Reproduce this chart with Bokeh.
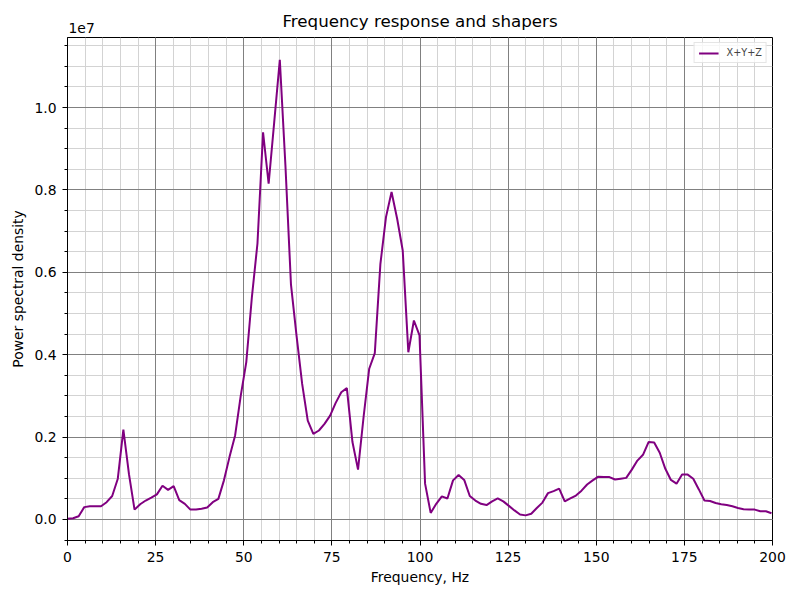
from bokeh.plotting import figure
from bokeh.models import (Range1d, FixedTicker, CustomJSTickFormatter, Label,
                          Legend, LegendItem, ColumnDataSource, Grid)
from bokeh.embed import file_html
from bokeh.resources import INLINE

# ---------------- data ----------------
freq_hz = [0.0, 1.59, 3.17, 4.76, 6.34, 7.93, 9.51, 11.1, 12.68, 14.27,
           15.85, 17.44, 19.02, 20.61, 22.19, 23.78, 25.36, 26.95, 28.53, 30.12,
           31.7, 33.29, 34.87, 36.46, 38.04, 39.63, 41.21, 42.8, 44.38, 45.97,
           47.55, 49.14, 50.72, 52.31, 53.89, 55.48, 57.06, 58.65, 60.23, 61.82,
           63.4, 64.99, 66.57, 68.16, 69.74, 71.33, 72.91, 74.5, 76.08, 77.67,
           79.25, 80.84, 82.42, 84.01, 85.59, 87.18, 88.76, 90.35, 91.93, 93.52,
           95.1, 96.69, 98.27, 99.86, 101.44, 103.03, 104.61, 106.2, 107.78, 109.37,
           110.95, 112.54, 114.12, 115.71, 117.29, 118.88, 120.46, 122.05, 123.63, 125.22,
           126.8, 128.39, 129.97, 131.56, 133.14, 134.73, 136.31, 137.9, 139.48, 141.07,
           142.65, 144.24, 145.82, 147.41, 148.99, 150.58, 152.16, 153.75, 155.33, 156.92,
           158.5, 160.09, 161.67, 163.26, 164.84, 166.43, 168.01, 169.6, 171.18, 172.77,
           174.35, 175.94, 177.52, 179.11, 180.69, 182.28, 183.86, 185.45, 187.03, 188.62,
           190.2, 191.79, 193.37, 194.96, 196.54, 198.13, 199.71]

# power spectral density, in millions
psd_millions = [0.02, 0.03, 0.08, 0.30, 0.32, 0.32, 0.32, 0.42, 0.57, 0.99,
                2.18, 1.10, 0.24, 0.37, 0.46, 0.53, 0.61, 0.82, 0.72, 0.81,
                0.47, 0.38, 0.24, 0.24, 0.26, 0.29, 0.42, 0.50, 0.95, 1.52,
                2.04, 3.00, 3.82, 5.40, 6.70, 9.40, 8.15, 9.65, 11.16, 8.60,
                5.70, 4.45, 3.29, 2.40, 2.08, 2.16, 2.32, 2.52, 2.83, 3.09,
                3.19, 1.88, 1.21, 2.50, 3.66, 4.04, 6.20, 7.34, 7.95, 7.30,
                6.53, 4.06, 4.83, 4.47, 0.87, 0.16, 0.38, 0.56, 0.51, 0.95,
                1.08, 0.96, 0.57, 0.46, 0.38, 0.35, 0.44, 0.51, 0.44, 0.33,
                0.22, 0.12, 0.10, 0.14, 0.28, 0.41, 0.64, 0.69, 0.75, 0.44,
                0.51, 0.58, 0.70, 0.85, 0.95, 1.04, 1.03, 1.03, 0.97, 0.99,
                1.01, 1.21, 1.43, 1.57, 1.88, 1.87, 1.62, 1.23, 0.96, 0.87,
                1.09, 1.09, 0.99, 0.73, 0.46, 0.45, 0.40, 0.37, 0.35, 0.32,
                0.28, 0.25, 0.24, 0.24, 0.20, 0.20, 0.15]

x_ticks = [0, 25, 50, 75, 100, 125, 150, 175, 200]
x_minor = [0, 5, 10, 15, 20, 25, 30, 35, 40, 45, 50, 55, 60, 65, 70, 75, 80,
           85, 90, 95, 100, 105, 110, 115, 120, 125, 130, 135, 140, 145, 150,
           155, 160, 165, 170, 175, 180, 185, 190, 195, 200]
y_ticks = [0, 2e6, 4e6, 6e6, 8e6, 10e6]
y_minor = [-0.5e6, 0, 0.5e6, 1e6, 1.5e6, 2e6, 2.5e6, 3e6, 3.5e6, 4e6, 4.5e6,
           5e6, 5.5e6, 6e6, 6.5e6, 7e6, 7.5e6, 8e6, 8.5e6, 9e6, 9.5e6, 10e6,
           10.5e6, 11e6, 11.5e6]
series_label = "X+Y+Z"

psd = [v * 1e6 for v in psd_millions]

FONT = "DejaVu Sans"

p = figure(width=800, height=600, output_backend="svg", toolbar_location=None,
           x_range=Range1d(0, 200), y_range=Range1d(-0.51e6, 11.70e6),
           min_border_left=67, min_border_right=28, min_border_top=37,
           min_border_bottom=60)

p.title.text = "Frequency response and shapers"
p.title.align = "center"
p.title.text_font = FONT
p.title.text_font_size = "16.7px"
p.title.text_font_style = "normal"
p.title.text_color = "black"
p.title.standoff = -6

p.outline_line_color = "black"
p.outline_line_width = 1
p.outline_line_alpha = 1

# axis tickers
p.xaxis.ticker = FixedTicker(ticks=x_ticks, minor_ticks=x_minor)
p.yaxis.ticker = FixedTicker(ticks=y_ticks, minor_ticks=y_minor)
p.yaxis.formatter = CustomJSTickFormatter(code="return (tick/1e7).toFixed(1);")

for ax in (p.xaxis[0], p.yaxis[0]):
    ax.axis_line_color = "black"
    ax.major_tick_line_color = "black"
    ax.minor_tick_line_color = "black"
    ax.major_tick_out = 5
    ax.major_tick_in = 0
    ax.minor_tick_out = 3
    ax.minor_tick_in = 0
    ax.major_label_text_font = FONT
    ax.major_label_text_font_size = "13.9px"
    ax.major_label_text_color = "black"
    ax.axis_label_text_font = FONT
    ax.axis_label_text_font_size = "13.9px"
    ax.axis_label_text_font_style = "normal"
    ax.axis_label_text_color = "black"

p.xaxis.major_label_standoff = 6
p.yaxis.major_label_standoff = 6
p.xaxis.axis_label = "Frequency, Hz"
p.yaxis.axis_label = "Power spectral density"
p.xaxis.axis_label_standoff = 4
p.yaxis.axis_label_standoff = 5

# grids: minor (light) via default grids, major (gray) as extra grids on top
p.xgrid.ticker = FixedTicker(ticks=x_minor)
p.ygrid.ticker = FixedTicker(ticks=y_minor)
for g in (p.xgrid[0], p.ygrid[0]):
    g.grid_line_color = "#d3d3d3"
    g.grid_line_width = 1
    g.minor_grid_line_color = None
p.add_layout(Grid(dimension=0, ticker=FixedTicker(ticks=x_ticks),
                  grid_line_color="#808080", grid_line_width=1))
p.add_layout(Grid(dimension=1, ticker=FixedTicker(ticks=y_ticks),
                  grid_line_color="#808080", grid_line_width=1))

src = ColumnDataSource(data=dict(f=freq_hz, psd=psd))
r = p.line("f", "psd", source=src, line_color="purple", line_width=2)

legend = Legend(items=[LegendItem(label=series_label, renderers=[r])],
                location="top_right")
legend.label_text_font = FONT
legend.label_text_font_size = "9.7px"
legend.glyph_width = 20
legend.glyph_height = 10
legend.label_standoff = 8
legend.padding = 4
legend.spacing = 0
legend.margin = 5
legend.label_height = 10
legend.border_line_color = "#cccccc"
legend.border_line_width = 1
legend.background_fill_color = "white"
legend.background_fill_alpha = 0.8
p.add_layout(legend)

# offset text like matplotlib's "1e7", placed in the panel above the frame
p.add_layout(Label(x=0, y=11.82e6, x_units="data", y_units="data",
                   text="1e7", text_font=FONT, text_font_size="13.9px",
                   text_baseline="bottom", text_align="left",
                   x_offset=1, y_offset=0, text_color="black"), "above")

open("out.html", "w").write(file_html(p, INLINE))
